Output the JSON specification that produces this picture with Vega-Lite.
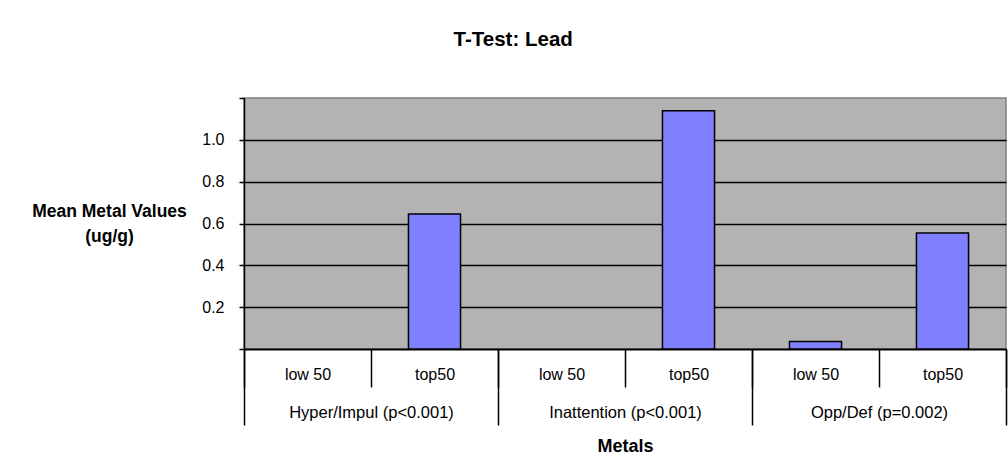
{
  "$schema": "https://vega.github.io/schema/vega-lite/v6.json",
  "width": 762,
  "height": 251,
  "autosize": {"type": "none"},
  "padding": {"left": 244, "top": 98, "right": 2, "bottom": 124},
  "background": "white",
  "title": {
    "text": "T-Test: Lead",
    "font": "Liberation Sans",
    "fontSize": 20.5,
    "fontWeight": "bold",
    "color": "black",
    "anchor": "middle",
    "frame": "bounds",
    "baseline": "alphabetic",
    "offset": 31,
    "dx": -6
  },
  "data": {
    "values": [
      {"group": "Hyper/Impul (p<0.001)", "sub": "low 50", "key": "Hyper/Impul (p<0.001)|low 50", "value": 0},
      {"group": "Hyper/Impul (p<0.001)", "sub": "top50", "key": "Hyper/Impul (p<0.001)|top50", "value": 0.645},
      {"group": "Inattention (p<0.001)", "sub": "low 50", "key": "Inattention (p<0.001)|low 50", "value": 0},
      {"group": "Inattention (p<0.001)", "sub": "top50", "key": "Inattention (p<0.001)|top50", "value": 1.139},
      {"group": "Opp/Def (p=0.002)", "sub": "low 50", "key": "Opp/Def (p=0.002)|low 50", "value": 0.036},
      {"group": "Opp/Def (p=0.002)", "sub": "top50", "key": "Opp/Def (p=0.002)|top50", "value": 0.554}
    ]
  },
  "layer": [
    {
      "mark": {"type": "bar", "color": "#8080FF", "stroke": "black", "strokeWidth": 1.5, "width": {"band": 0.41}},
      "encoding": {
        "x": {
          "field": "key",
          "type": "nominal",
          "sort": null,
          "scale": {"paddingInner": 0, "paddingOuter": 0},
          "axis": {
            "orient": "bottom",
            "title": null,
            "labelExpr": "split(datum.value, '|')[1]",
            "labelAngle": 0,
            "labelFont": "Liberation Sans",
            "labelFontSize": 16,
            "labelColor": "black",
            "labelBaseline": "middle",
            "labelPadding": -13,
            "tickBand": "extent",
            "tickSize": 38,
            "tickColor": "black",
            "tickWidth": 1.5,
            "domainColor": "black",
            "domainWidth": 2,
            "grid": false
          }
        },
        "y": {
          "field": "value",
          "type": "quantitative",
          "scale": {"domain": [0, 1.2], "nice": false, "zero": true},
          "axis": {
            "values": [0, 0.2, 0.4, 0.6, 0.8, 1.0, 1.2],
            "labelExpr": "datum.value < 0.1 || datum.value > 1.1 ? '' : format(datum.value, '.1f')",
            "labelFont": "Liberation Sans",
            "labelFontSize": 16,
            "labelColor": "black",
            "labelPadding": 15,
            "tickSize": 5,
            "tickColor": "black",
            "tickWidth": 1.5,
            "domainColor": "black",
            "domainWidth": 1.5,
            "grid": true,
            "gridColor": {"condition": {"test": "datum.value > 1.1 || datum.value < 0.1", "value": "transparent"}, "value": "black"},
            "gridWidth": 1.5,
            "gridOpacity": 1,
            "title": ["Mean Metal Values", "(ug/g)"],
            "titleFont": "Liberation Sans",
            "titleFontSize": 17.5,
            "titleFontWeight": "bold",
            "titleColor": "black",
            "titleAngle": 0,
            "titleAlign": "center",
            "titleBaseline": "middle",
            "titleLineHeight": 25,
            "titleX": -135,
            "titleY": 113
          }
        },
        "strokeOpacity": {"condition": {"test": "datum.value == 0", "value": 0}, "value": 1}
      }
    },
    {
      "mark": {"type": "bar", "opacity": 0},
      "encoding": {
        "x": {
          "field": "group",
          "type": "nominal",
          "sort": null,
          "scale": {"paddingInner": 0, "paddingOuter": 0},
          "axis": {
            "orient": "bottom",
            "title": "Metals",
            "titleFont": "Liberation Sans",
            "titleFontSize": 18,
            "titleFontWeight": "bold",
            "titleColor": "black",
            "titleBaseline": "middle",
            "titleY": 97,
            "labelAngle": 0,
            "labelFont": "Liberation Sans",
            "labelFontSize": 16.5,
            "labelColor": "black",
            "labelBaseline": "middle",
            "labelPadding": -13,
            "tickBand": "extent",
            "tickSize": 76,
            "tickColor": "black",
            "tickWidth": 1.5,
            "domain": false,
            "grid": false
          }
        },
        "y": {"field": "value", "type": "quantitative"}
      }
    }
  ],
  "resolve": {"scale": {"x": "independent"}, "axis": {"x": "independent"}},
  "config": {
    "view": {"fill": "#B3B3B3", "stroke": "#808080", "strokeWidth": 1.5},
    "font": "Liberation Sans"
  }
}
